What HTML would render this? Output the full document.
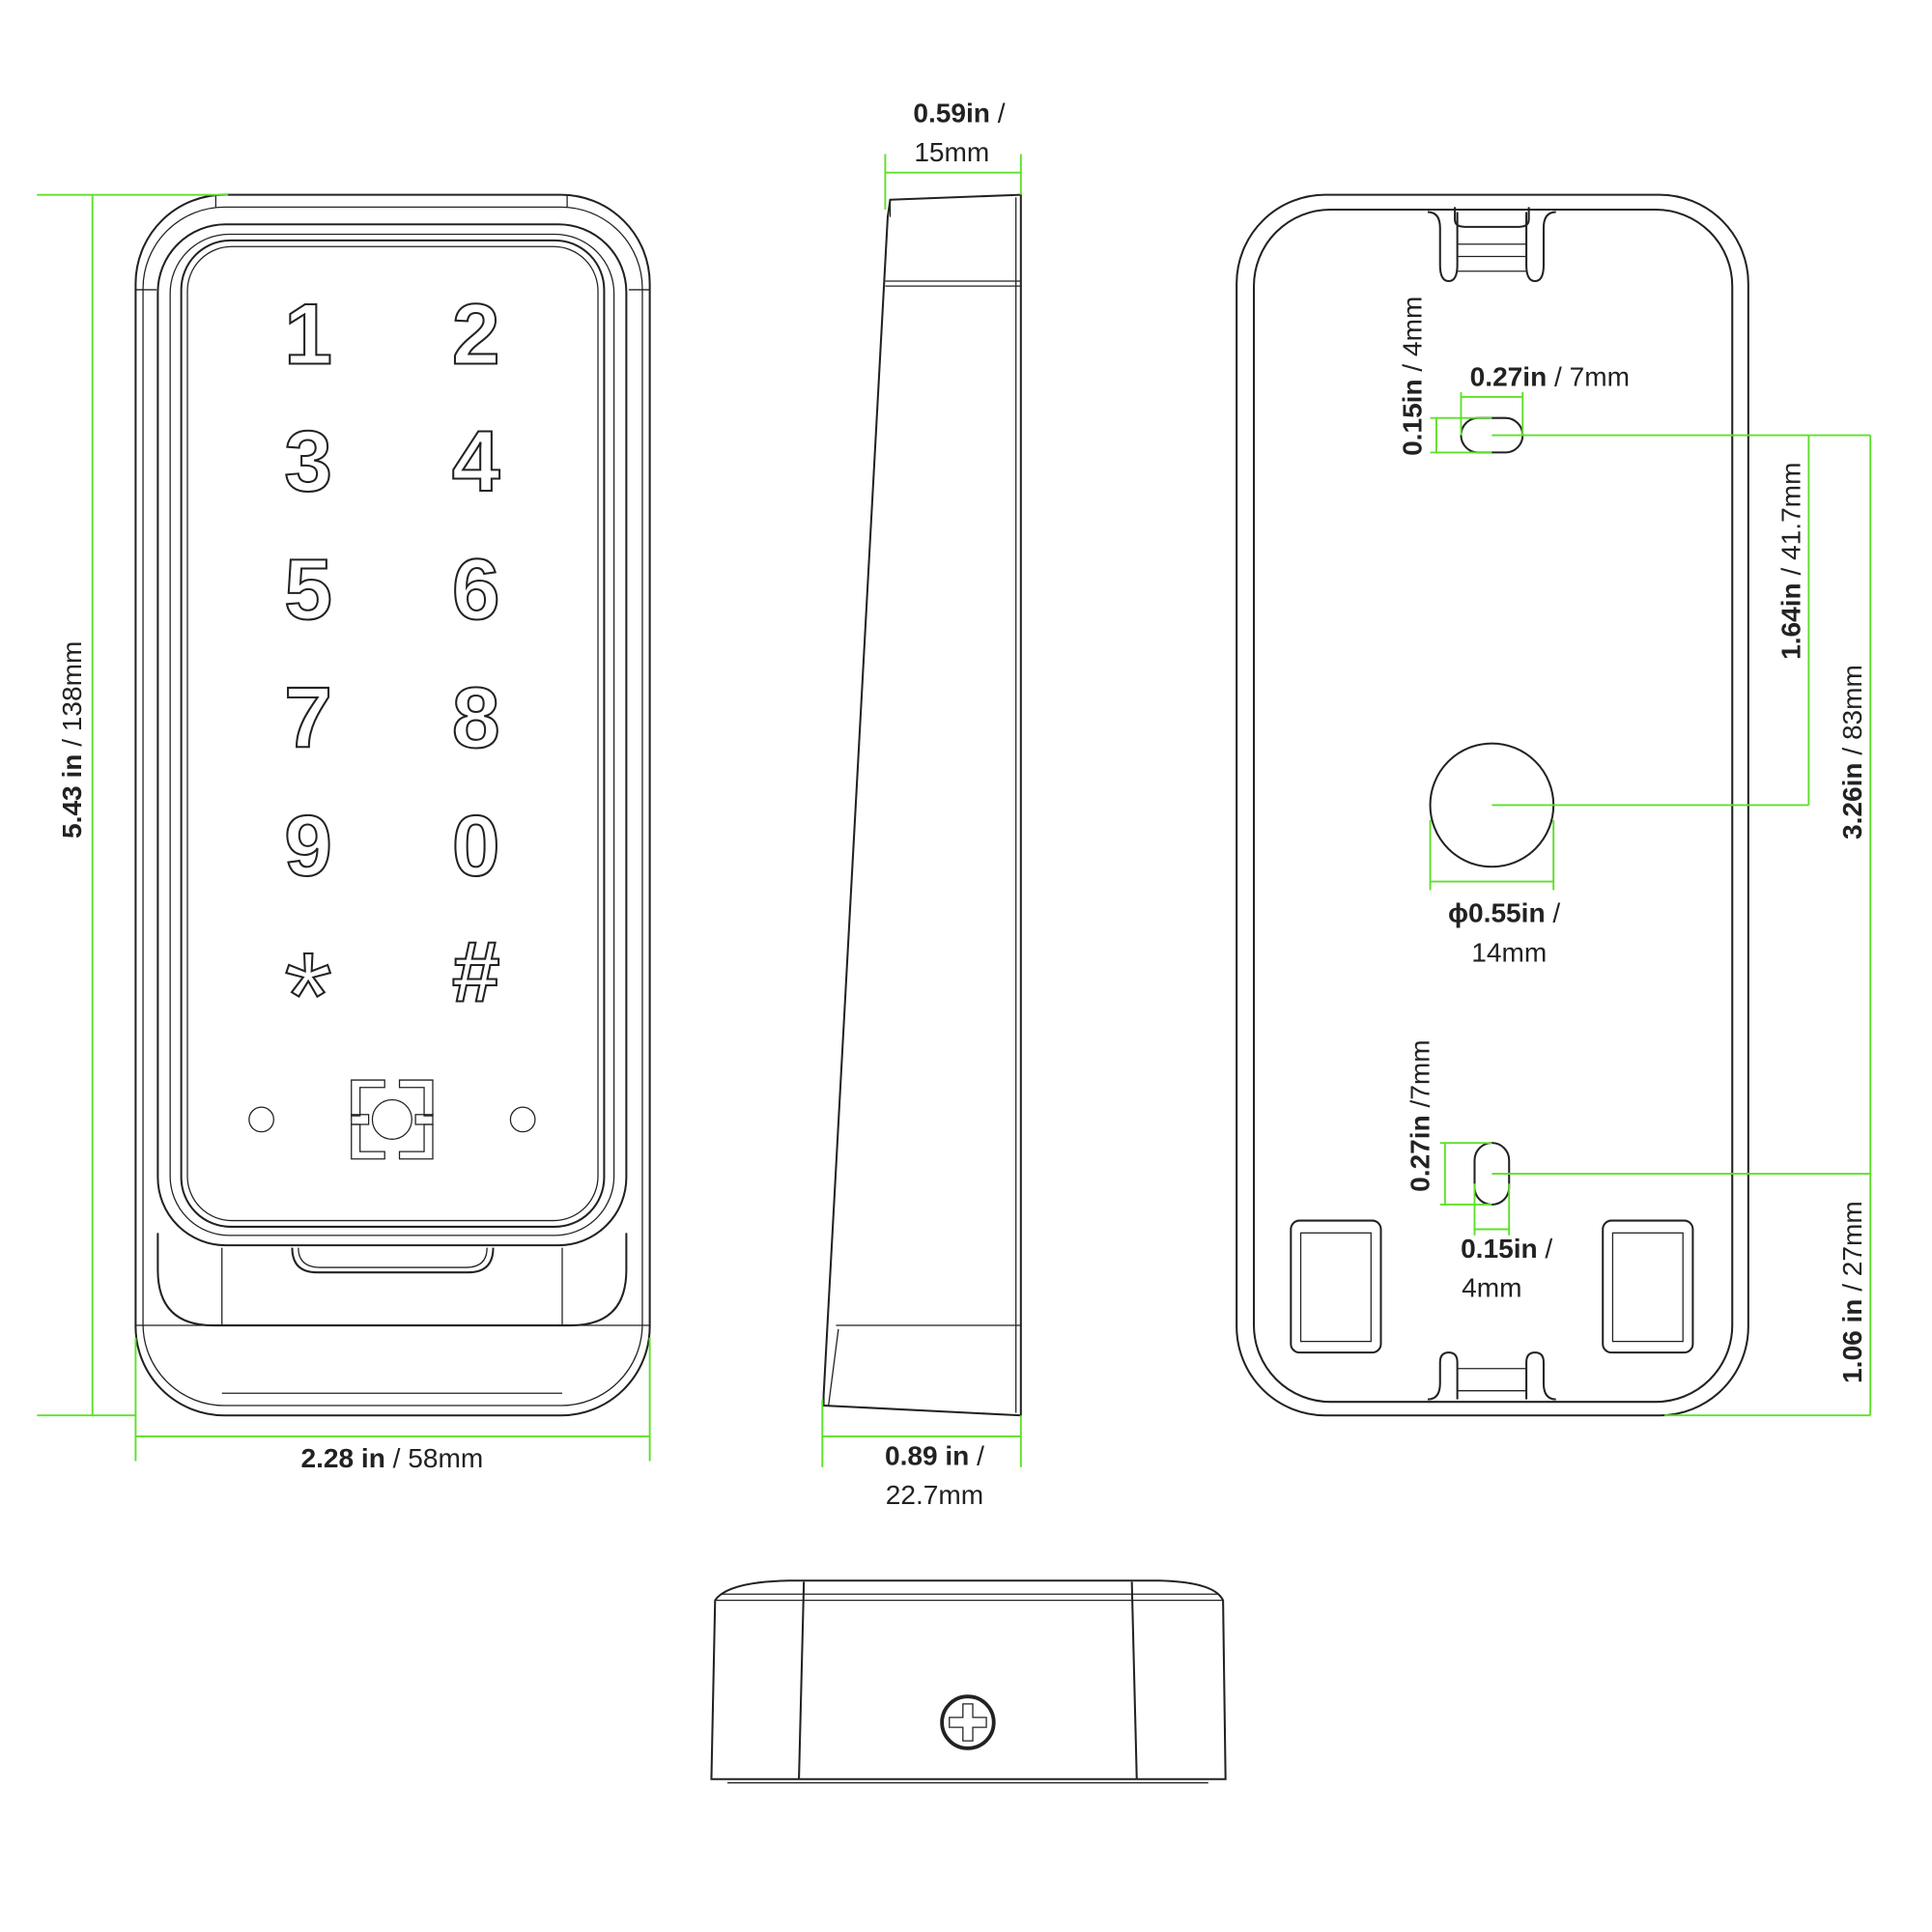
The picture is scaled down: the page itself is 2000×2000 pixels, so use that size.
<!DOCTYPE html>
<html><head><meta charset="utf-8"><style>
html,body{margin:0;padding:0;background:#fff;width:2000px;height:2000px;overflow:hidden}
svg{display:block}
text{font-family:"Liberation Sans",sans-serif;font-size:22px;fill:#222}
.b{font-weight:bold}
.k{fill:none;stroke:#222;stroke-width:1.6}
.t{fill:none;stroke:#222;stroke-width:1}
.g{fill:none;stroke:#5fe02a;stroke-width:1.5}
.d{font-family:"Liberation Sans",sans-serif;font-weight:bold;font-size:70px;fill:#fff;stroke:#222;stroke-width:1.6;text-anchor:middle}
</style></head><body>
<svg width="2000" height="2000" viewBox="0 0 1567 1567" xmlns="http://www.w3.org/2000/svg">
<!-- FRONT VIEW -->
<rect class="k" x="110" y="158" width="417" height="990" rx="72"/>
<rect class="t" x="116" y="168" width="405" height="972" rx="66"/>
<line class="t" x1="110" y1="235" x2="127" y2="235"/><line class="t" x1="510" y1="235" x2="527" y2="235"/>
<line class="t" x1="175" y1="158" x2="175" y2="168"/><line class="t" x1="460" y1="158" x2="460" y2="168"/>
<rect class="k" x="128" y="182" width="380" height="828" rx="55"/>
<rect class="t" x="138" y="190" width="360" height="812" rx="48"/>
<rect class="k" x="147" y="195" width="343" height="800" rx="40"/>
<rect class="t" x="152" y="200" width="333" height="790" rx="36"/>
<path class="k" d="M128 1000 V1030 Q128 1075 173 1075 H463 Q508 1075 508 1030 V1000"/>
<line class="t" x1="180" y1="1012" x2="180" y2="1075"/><line class="t" x1="456" y1="1012" x2="456" y2="1075"/>
<path class="k" d="M237 1012 Q237 1032 257 1032 H380 Q400 1032 400 1012"/>
<path class="t" d="M242 1012 Q242 1028 260 1028 H378 Q395 1028 395 1012"/>
<line class="t" x1="110" y1="1075" x2="527" y2="1075"/>
<line class="t" x1="180" y1="1130" x2="456" y2="1130"/>
<text class="d" x="250" y="295">1</text><text class="d" x="386" y="295">2</text>
<text class="d" x="250" y="398">3</text><text class="d" x="386" y="398">4</text>
<text class="d" x="250" y="502">5</text><text class="d" x="386" y="502">6</text>
<text class="d" x="250" y="606">7</text><text class="d" x="386" y="606">8</text>
<text class="d" x="250" y="710">9</text><text class="d" x="386" y="710">0</text>
<text class="d" x="250" y="842" style="font-size:100px;font-weight:normal">*</text><text class="d" x="386" y="812">#</text>
<circle class="t" cx="212" cy="908" r="10"/><circle class="t" cx="424" cy="908" r="10"/>
<circle class="t" cx="318" cy="908" r="16"/>
<path class="t" d="M285 876 H312 V882 H292 V905 H285 Z"/>
<path class="t" d="M351 876 H324 V882 H344 V905 H351 Z"/>
<path class="t" d="M285 940 H312 V934 H292 V912 H285 Z"/>
<path class="t" d="M351 940 H324 V934 H344 V912 H351 Z"/>
<rect class="t" x="285" y="904" width="14" height="8"/><rect class="t" x="337" y="904" width="14" height="8"/>
<!-- front dims -->
<line class="g" x1="30" y1="158" x2="185" y2="158"/>
<line class="g" x1="30" y1="1148" x2="110" y2="1148"/>
<line class="g" x1="75" y1="158" x2="75" y2="1148"/>
<text transform="translate(66 600) rotate(-90)" text-anchor="middle"><tspan class="b">5.43 in</tspan> / 138mm</text>
<line class="g" x1="110" y1="1085" x2="110" y2="1185"/>
<line class="g" x1="527" y1="1085" x2="527" y2="1185"/>
<line class="g" x1="110" y1="1165" x2="527" y2="1165"/>
<text x="318" y="1190" text-anchor="middle"><tspan class="b">2.28 in</tspan> / 58mm</text>
<!-- SIDE VIEW -->
<path class="k" d="M722 162 L828 158 V1148 L668 1140 L668 1132 L720 176 Z"/>
<line class="t" x1="722" y1="162" x2="722" y2="176"/>
<line class="t" x1="718" y1="232" x2="828" y2="232"/>
<line class="t" x1="718" y1="228" x2="828" y2="228"/>
<line class="t" x1="678" y1="1075" x2="828" y2="1075"/>
<line class="t" x1="824" y1="160" x2="824" y2="1146"/>
<line class="t" x1="680" y1="1078" x2="672" y2="1140"/>
<line class="g" x1="718" y1="125" x2="718" y2="170"/>
<line class="g" x1="828" y1="125" x2="828" y2="158"/>
<line class="g" x1="718" y1="140" x2="828" y2="140"/>
<text x="778" y="99" text-anchor="middle"><tspan class="b">0.59in</tspan> /</text>
<text x="772" y="131" text-anchor="middle">15mm</text>
<line class="g" x1="667" y1="1135" x2="667" y2="1190"/>
<line class="g" x1="828" y1="1148" x2="828" y2="1190"/>
<line class="g" x1="667" y1="1165" x2="828" y2="1165"/>
<text x="758" y="1188" text-anchor="middle"><tspan class="b">0.89 in</tspan> /</text>
<text x="758" y="1220" text-anchor="middle">22.7mm</text>
<!-- BACK VIEW -->
<rect class="k" x="1003" y="158" width="415" height="990" rx="72"/>
<rect class="k" x="1017" y="170" width="388" height="967" rx="62"/>
<path class="k" d="M1158 172 Q1168 172 1168 185 V215 Q1168 228 1175 228 Q1182 228 1182 215 V172"/>
<path class="k" d="M1262 172 Q1252 172 1252 185 V215 Q1252 228 1245 228 Q1238 228 1238 215 V172"/>
<path class="k" d="M1180 168 V178 Q1180 184 1188 184 H1232 Q1240 184 1240 178 V168"/>
<line class="t" x1="1182" y1="198" x2="1238" y2="198"/><line class="t" x1="1182" y1="208" x2="1238" y2="208"/><line class="t" x1="1182" y1="220" x2="1238" y2="220"/>
<path class="k" d="M1158 1135 Q1168 1135 1168 1122 V1105 Q1168 1097 1175 1097 Q1182 1097 1182 1105 V1135"/>
<path class="k" d="M1262 1135 Q1252 1135 1252 1122 V1105 Q1252 1097 1245 1097 Q1238 1097 1238 1105 V1135"/>
<line class="t" x1="1182" y1="1110" x2="1238" y2="1110"/><line class="t" x1="1182" y1="1128" x2="1238" y2="1128"/>
<rect class="k" x="1185" y="339" width="50" height="28" rx="14"/>
<circle class="k" cx="1210" cy="653" r="50"/>
<rect class="k" x="1196" y="927" width="28" height="50" rx="14"/>
<rect class="k" x="1047" y="990" width="73" height="107" rx="7"/>
<rect class="t" x="1055" y="1000" width="57" height="88"/>
<rect class="k" x="1300" y="990" width="73" height="107" rx="7"/>
<rect class="t" x="1308" y="1000" width="57" height="88"/>
<!-- back dims -->
<line class="g" x1="1210" y1="353" x2="1517" y2="353"/>
<line class="g" x1="1210" y1="653" x2="1467" y2="653"/>
<line class="g" x1="1210" y1="952" x2="1517" y2="952"/>
<line class="g" x1="1350" y1="1148" x2="1517" y2="1148"/>
<line class="g" x1="1467" y1="353" x2="1467" y2="653"/>
<line class="g" x1="1517" y1="353" x2="1517" y2="1148"/>
<text transform="translate(1460 455) rotate(-90)" text-anchor="middle"><tspan class="b">1.64in</tspan> / 41.7mm</text>
<text transform="translate(1510 610) rotate(-90)" text-anchor="middle"><tspan class="b">3.26in</tspan> / 83mm</text>
<text transform="translate(1510 1048) rotate(-90)" text-anchor="middle"><tspan class="b">1.06 in</tspan> / 27mm</text>
<line class="g" x1="1160" y1="339" x2="1210" y2="339"/><line class="g" x1="1160" y1="367" x2="1210" y2="367"/>
<line class="g" x1="1165" y1="339" x2="1165" y2="367"/>
<line class="g" x1="1185" y1="318" x2="1185" y2="353"/><line class="g" x1="1235" y1="318" x2="1235" y2="353"/>
<line class="g" x1="1185" y1="322" x2="1235" y2="322"/>
<text transform="translate(1153 305) rotate(-90)" text-anchor="middle"><tspan class="b">0.15in</tspan> / 4mm</text>
<text x="1257" y="313" text-anchor="middle"><tspan class="b">0.27in</tspan> / 7mm</text>
<line class="g" x1="1160" y1="665" x2="1160" y2="722"/><line class="g" x1="1260" y1="665" x2="1260" y2="722"/>
<line class="g" x1="1160" y1="715" x2="1260" y2="715"/>
<text x="1220" y="748" text-anchor="middle"><tspan class="b">ϕ0.55in</tspan> /</text>
<text x="1224" y="780" text-anchor="middle">14mm</text>
<line class="g" x1="1168" y1="927" x2="1210" y2="927"/><line class="g" x1="1168" y1="977" x2="1210" y2="977"/>
<line class="g" x1="1172" y1="927" x2="1172" y2="977"/>
<line class="g" x1="1196" y1="960" x2="1196" y2="1002"/><line class="g" x1="1224" y1="960" x2="1224" y2="1002"/>
<line class="g" x1="1196" y1="997" x2="1224" y2="997"/>
<text transform="translate(1159 905) rotate(-90)" text-anchor="middle"><tspan class="b">0.27in</tspan> /7mm</text>
<text x="1222" y="1020" text-anchor="middle"><tspan class="b">0.15in</tspan> /</text>
<text x="1210" y="1052" text-anchor="middle">4mm</text>
<!-- BOTTOM VIEW -->
<path class="k" d="M580 1298 Q590 1283 640 1282 H940 Q985 1283 992 1298 L994 1443 H577 Z"/>
<line class="t" x1="580" y1="1298" x2="992" y2="1298"/>
<line class="t" x1="585" y1="1293" x2="988" y2="1293"/>
<line class="k" x1="652" y1="1283" x2="648" y2="1443"/>
<line class="k" x1="918" y1="1283" x2="922" y2="1443"/>
<line class="t" x1="590" y1="1446" x2="980" y2="1446"/>
<circle cx="785" cy="1397" r="21" fill="none" stroke="#222" stroke-width="3"/>
<path class="t" d="M781 1382 H789 V1393 H800 V1401 H789 V1412 H781 V1401 H770 V1393 H781 Z"/>
</svg>
</body></html>
